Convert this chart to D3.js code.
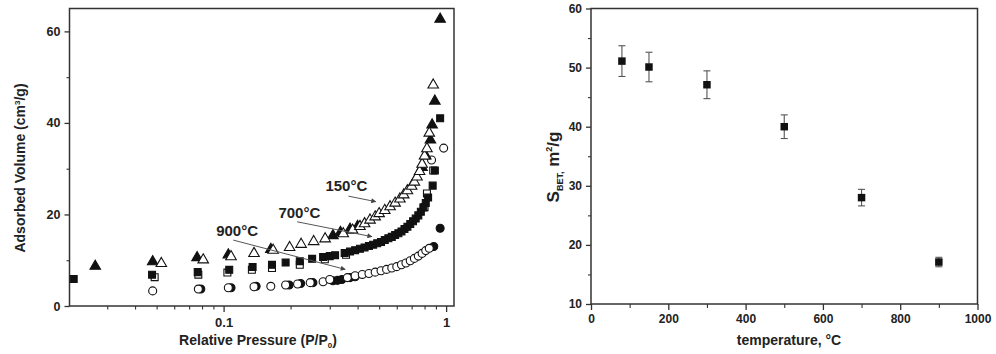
<!DOCTYPE html>
<html><head><meta charset="utf-8">
<script src="https://cdn.jsdelivr.net/npm/d3@7"></script>
<style>
body{margin:0;background:#fff;}
svg text{font-family:"Liberation Sans",Arial,sans-serif;font-weight:bold;fill:#222;}
</style></head>
<body><svg id="c" width="996" height="354"></svg>
<script>
// ---------- Left chart data: [P/P0, adsorbed volume cm3/g] ----------
const triFilled150 = [[0.0265,8.9],[0.048,9.9],[0.076,10.8],[0.105,11.4],[0.163,12.6],[0.31,15.6],[0.335,16.3],[0.37,17.0],[0.40,17.6],[0.78,30.5],[0.81,33.0],[0.85,36.5],[0.865,39.8],[0.89,45.0],[0.94,62.9]];
const triOpen150 = [[0.0525,9.5],[0.081,10.3],[0.108,11.0],[0.137,11.7],[0.167,12.4],[0.198,13.0],[0.223,13.7],[0.254,14.3],[0.286,14.9],[0.345,16.0],[0.38,16.8],[0.41,17.6],[0.43,18.2],[0.455,19.0],[0.48,19.7],[0.50,20.4],[0.53,21.1],[0.56,21.9],[0.59,22.7],[0.62,23.6],[0.645,24.5],[0.67,25.4],[0.70,26.4],[0.72,27.3],[0.74,28.4],[0.76,29.6],[0.78,31.2],[0.80,33.0],[0.82,34.6],[0.84,38.0],[0.875,48.5]];
const sqOpen700 = [[0.049,6.3],[0.077,6.85],[0.104,7.3],[0.134,7.9],[0.165,8.3],[0.22,9.0],[0.285,10.2],[0.355,11.2],[0.80,21.6],[0.82,24.6],[0.875,29.6]];
const sqFilled700 = [[0.0212,5.9],[0.0477,6.85],[0.0765,7.4],[0.106,7.9],[0.135,8.5],[0.165,9.0],[0.19,9.5],[0.22,9.8],[0.25,10.3],[0.28,10.7],[0.30,10.9],[0.317,11.1],[0.35,11.6],[0.37,11.9],[0.39,12.2],[0.41,12.5],[0.43,12.8],[0.45,13.1],[0.47,13.4],[0.49,13.7],[0.51,14.0],[0.53,14.4],[0.55,14.8],[0.57,15.1],[0.59,15.5],[0.61,15.9],[0.63,16.3],[0.65,16.8],[0.67,17.3],[0.69,17.9],[0.71,18.5],[0.73,19.1],[0.75,19.8],[0.77,20.6],[0.79,21.5],[0.81,22.5],[0.83,23.7],[0.87,26.3],[0.89,29.6],[0.94,41.0]];
const circFilled900 = [[0.079,3.7],[0.108,4.0],[0.14,4.3],[0.197,4.6],[0.222,4.9],[0.252,5.1],[0.31,5.5],[0.325,5.6],[0.34,5.8],[0.37,6.2],[0.39,6.4],[0.88,13.0],[0.94,17.0]];
const circOpen900 = [[0.048,3.3],[0.077,3.7],[0.105,4.0],[0.137,4.2],[0.163,4.3],[0.19,4.6],[0.215,4.8],[0.245,5.1],[0.28,5.3],[0.30,5.8],[0.36,6.2],[0.39,6.6],[0.42,6.9],[0.45,7.1],[0.48,7.4],[0.51,7.7],[0.54,8.0],[0.57,8.3],[0.60,8.6],[0.63,9.0],[0.66,9.4],[0.69,9.9],[0.72,10.4],[0.75,10.9],[0.78,11.5],[0.81,12.1],[0.84,12.6],[0.86,31.9],[0.975,34.5]];
const leftYTicks = [0,20,40,60];
const leftXTicks = [0.1,1];
// annotations: label, label position [P/P0, V], arrow start, arrow end
const annotations = [
  {label:"150°C", at:[0.356,25.1], from:[0.364,24.0], to:[0.483,22.8]},
  {label:"700°C", at:[0.219,19.2], from:[0.214,18.4], to:[0.464,15.15]},
  {label:"900°C", at:[0.115,15.3], from:[0.1105,14.4], to:[0.352,8.0]}
];

// ---------- Right chart data ----------
const temps = [80,150,300,500,700,900];
const sbet = [51.1,50.1,47.1,40.0,28.0,17.1];
const sbetErr = [2.6,2.5,2.35,2.0,1.4,0.8];
const rightXTicks = [0,200,400,600,800,1000];
const rightYTicks = [10,20,30,40,50,60];

const svg = d3.select("#c");
const axisCol = "#333";

// ===== Left chart =====
const L = {left:69.5, right:454, top:8.5, bottom:306};
const xL = d3.scaleLog().domain([0.0203,1.085]).range([L.left,L.right]);
const yL = d3.scaleLinear().domain([0,65]).range([L.bottom,L.top]);
const gL = svg.append("g");

gL.append("rect").attr("x",L.left).attr("y",L.top).attr("width",L.right-L.left).attr("height",L.bottom-L.top)
  .attr("fill","none").attr("stroke",axisCol).attr("stroke-width",1.5);

// x ticks (log)
const minorX = [];
for (let d=0.01; d<1; d*=10) for (let k=2;k<=9;k++){const v=+(k*d).toFixed(3); if(v>=0.0203&&v<=1.085) minorX.push(v);}
const xAxisL = d3.axisBottom(xL).tickValues(leftXTicks).tickFormat(d=>d===1?"1":"0.1").tickSize(6).tickSizeOuter(0);
const gxL = gL.append("g").attr("transform",`translate(0,${L.bottom})`).call(xAxisL);
gxL.select(".domain").remove();
gxL.selectAll("line").attr("stroke",axisCol).attr("stroke-width",1.3);
gxL.selectAll("text").attr("font-size",13).attr("dy","0.95em");
gL.append("g").attr("transform",`translate(0,${L.bottom})`).call(d3.axisBottom(xL).tickValues(minorX).tickFormat("").tickSize(3.5).tickSizeOuter(0))
  .call(g=>{g.select(".domain").remove(); g.selectAll("line").attr("stroke",axisCol).attr("stroke-width",1.1);});

const gyL = gL.append("g").attr("transform",`translate(${L.left},0)`).call(d3.axisLeft(yL).tickValues(leftYTicks).tickSize(5).tickSizeOuter(0));
gyL.select(".domain").remove();
gyL.selectAll("line").attr("stroke",axisCol).attr("stroke-width",1.3);
gyL.selectAll("text").attr("font-size",12.5).attr("x",-9);
gL.append("g").attr("transform",`translate(${L.left},0)`).call(d3.axisLeft(yL).tickValues([10,30,50]).tickFormat("").tickSize(3).tickSizeOuter(0))
  .call(g=>{g.select(".domain").remove(); g.selectAll("line").attr("stroke",axisCol).attr("stroke-width",1.1);});

// axis titles
const tx = gL.append("text").attr("x",258).attr("y",345).attr("text-anchor","middle").attr("font-size",14);
tx.append("tspan").text("Relative Pressure (P/P");
tx.append("tspan").text("0").attr("font-size",8).attr("dy",3);
tx.append("tspan").text(")").attr("dy",-3);
const ty = gL.append("text").attr("transform","translate(25,168) rotate(-90)").attr("text-anchor","middle").attr("font-size",14);
ty.append("tspan").text("Adsorbed Volume (cm");
ty.append("tspan").text("3").attr("font-size",8).attr("dy",-5);
ty.append("tspan").text("/g)").attr("dy",5);

// markers
const sym = (type,size)=>d3.symbol().type(type).size(size)();
function plotSeries(data,type,size,filled,dy=0){
  gL.append("g").selectAll("path").data(data).join("path")
    .attr("d",sym(type,size))
    .attr("transform",d=>`translate(${xL(d[0])},${yL(d[1])+dy})`)
    .attr("fill",filled?"#111":"#fff").attr("stroke","#111").attr("stroke-width",1.1);
}
plotSeries(circFilled900,d3.symbolCircle,50,true);
plotSeries(circOpen900,d3.symbolCircle,50,false);
plotSeries(sqOpen700,d3.symbolSquare,48,false);
plotSeries(sqFilled700,d3.symbolSquare,48,true);
plotSeries(triFilled150,d3.symbolTriangle,48,true,1);
plotSeries(triOpen150,d3.symbolTriangle,48,false,1);

// annotations
const defs = svg.append("defs");
defs.append("marker").attr("id","ah").attr("viewBox","0 0 10 10").attr("refX",9).attr("refY",5)
  .attr("markerWidth",7).attr("markerHeight",5).attr("orient","auto").attr("markerUnits","userSpaceOnUse")
  .append("path").attr("d","M0,0 L10,5 L0,10 z").attr("fill","#444");
annotations.forEach(a=>{
  gL.append("text").attr("x",xL(a.at[0])).attr("y",yL(a.at[1])).attr("text-anchor","middle").attr("font-size",15).text(a.label);
  gL.append("line").attr("x1",xL(a.from[0])).attr("y1",yL(a.from[1])).attr("x2",xL(a.to[0])).attr("y2",yL(a.to[1]))
    .attr("stroke","#555").attr("stroke-width",1).attr("marker-end","url(#ah)");
});

// ===== Right chart =====
const R = {left:591, right:977.5, top:8.5, bottom:304};
const xR = d3.scaleLinear().domain([0,1000]).range([R.left,R.right]);
const yR = d3.scaleLinear().domain([10,60]).range([R.bottom,R.top]);
const gR = svg.append("g");
gR.append("rect").attr("x",R.left).attr("y",R.top).attr("width",R.right-R.left).attr("height",R.bottom-R.top)
  .attr("fill","none").attr("stroke",axisCol).attr("stroke-width",1.5);
const gxR = gR.append("g").attr("transform",`translate(0,${R.bottom})`).call(d3.axisBottom(xR).tickValues(rightXTicks).tickFormat(d3.format("d")).tickSize(6).tickSizeOuter(0));
gxR.select(".domain").remove();
gxR.selectAll("line").attr("stroke",axisCol).attr("stroke-width",1.3);
gxR.selectAll("text").attr("font-size",12).attr("dy","0.85em");
gR.append("g").attr("transform",`translate(0,${R.bottom})`).call(d3.axisBottom(xR).tickValues([100,300,500,700,900]).tickFormat("").tickSize(4).tickSizeOuter(0))
  .call(g=>{g.select(".domain").remove(); g.selectAll("line").attr("stroke",axisCol).attr("stroke-width",1.1);});
const gyR = gR.append("g").attr("transform",`translate(${R.left},0)`).call(d3.axisLeft(yR).tickValues(rightYTicks).tickSize(5).tickSizeOuter(0));
gyR.select(".domain").remove();
gyR.selectAll("line").attr("stroke",axisCol).attr("stroke-width",1.3);
gyR.selectAll("text").attr("font-size",12).attr("x",-9);
gR.append("g").attr("transform",`translate(${R.left},0)`).call(d3.axisLeft(yR).tickValues([15,25,35,45,55]).tickFormat("").tickSize(3).tickSizeOuter(0))
  .call(g=>{g.select(".domain").remove(); g.selectAll("line").attr("stroke",axisCol).attr("stroke-width",1.1);});

gR.append("text").attr("x",789).attr("y",345).attr("text-anchor","middle").attr("font-size",14).text("temperature, °C");
const tyR = gR.append("text").attr("transform","translate(559,167) rotate(-90)").attr("text-anchor","middle").attr("font-size",17);
tyR.append("tspan").text("S");
tyR.append("tspan").text("BET,").attr("font-size",9).attr("dy",4);
tyR.append("tspan").text(" m").attr("dy",-4);
tyR.append("tspan").text("2").attr("font-size",9).attr("dy",-7);
tyR.append("tspan").text("/g").attr("dy",7);

const pts = temps.map((t,i)=>({t, v:sbet[i], e:sbetErr[i]}));
const eb = gR.append("g").attr("stroke","#555").attr("stroke-width",1.1);
pts.forEach(p=>{
  const x=xR(p.t), y1=yR(p.v+p.e), y2=yR(p.v-p.e);
  eb.append("line").attr("x1",x).attr("x2",x).attr("y1",y1).attr("y2",y2);
  eb.append("line").attr("x1",x-3.5).attr("x2",x+3.5).attr("y1",y1).attr("y2",y1);
  eb.append("line").attr("x1",x-3.5).attr("x2",x+3.5).attr("y1",y2).attr("y2",y2);
});
gR.append("g").selectAll("path").data(pts).join("path")
  .attr("d",sym(d3.symbolSquare,56))
  .attr("transform",d=>`translate(${xR(d.t)},${yR(d.v)})`)
  .attr("fill","#111");
</script></body></html>
